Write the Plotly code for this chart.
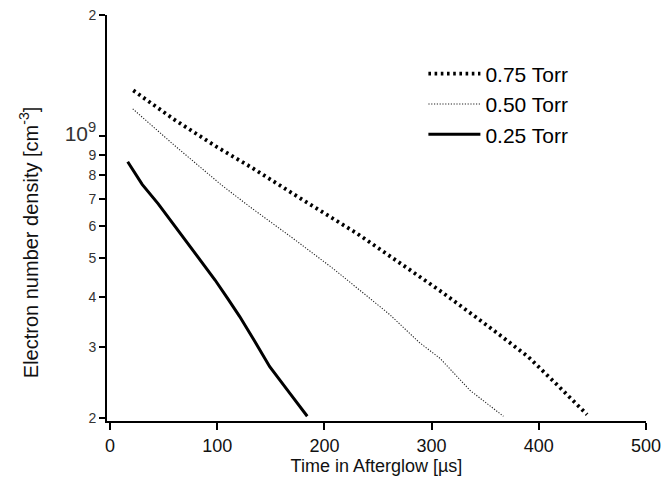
import plotly.graph_objects as go

# Data (time in µs, density in cm^-3)
t_075 = [21.7, 60, 100, 132, 180, 230, 266.5, 310, 354, 390, 417.6, 445]
n_075 = [1.30e9, 1.10e9, 9.4e8, 8.37e8, 6.95e8, 5.75e8, 4.93e8, 4.1e8, 3.36e8, 2.84e8, 2.41e8, 2.04e8]

t_050 = [21.2, 60, 104, 130.6, 170, 208, 244, 261, 288.5, 308, 336, 367]
n_050 = [1.17e9, 9.5e8, 7.57e8, 6.68e8, 5.6e8, 4.70e8, 3.93e8, 3.61e8, 3.08e8, 2.81e8, 2.34e8, 2.02e8]

t_025 = [16.5, 30, 45, 57.5, 75, 98, 110, 121, 135, 149, 168, 184]
n_025 = [8.65e8, 7.6e8, 6.8e8, 6.14e8, 5.3e8, 4.40e8, 3.95e8, 3.57e8, 3.1e8, 2.68e8, 2.30e8, 2.02e8]

x_ticks = [0, 100, 200, 300, 400, 500]
y_tickvals = [2e8, 3e8, 4e8, 5e8, 6e8, 7e8, 8e8, 9e8, 1e9, 2e9]
y_ticktext = ["2", "3", "4", "5", "6", "7", "8", "9",
              "<span style='font-size:21px'>10<sup>9</sup></span>", "2"]

FONT = "Liberation Sans, Arial, sans-serif"

fig = go.Figure()
fig.add_trace(go.Scatter(x=t_075, y=n_075, mode="lines", name="0.75 Torr",
                         line=dict(color="black", width=3.8, dash="2.6px,3.6px")))
fig.add_trace(go.Scatter(x=t_050, y=n_050, mode="lines", name="0.50 Torr",
                         line=dict(color="#222222", width=1.1, dash="1.2px,1.6px")))
fig.add_trace(go.Scatter(x=t_025, y=n_025, mode="lines", name="0.25 Torr",
                         line=dict(color="black", width=3)))

fig.update_layout(
    width=669, height=493,
    margin=dict(l=107, r=23, t=15, b=72, autoexpand=False),
    plot_bgcolor="white", paper_bgcolor="white",
    font=dict(family=FONT, color="#111111"),
    showlegend=True,
    legend=dict(x=0.587, y=0.905, xanchor="left", yanchor="top",
                font=dict(size=21, family=FONT, color="black"),
                bgcolor="rgba(0,0,0,0)", tracegroupgap=0, itemwidth=52),
    xaxis=dict(range=[-2.8, 500], tickvals=x_ticks, ticks="outside", ticklen=7,
               tickwidth=2, tickcolor="black", showline=True, linecolor="black",
               linewidth=2, showgrid=False, zeroline=False, automargin=False,
               tickfont=dict(size=18, family=FONT, color="#111111"),
               title=dict(text="Time in Afterglow [µs]", standoff=5,
                          font=dict(size=18, family=FONT, color="#111111"))),
    yaxis=dict(type="log", range=[8.2936, 9.30103], tickvals=y_tickvals,
               ticktext=y_ticktext, ticks="outside", ticklen=6, tickwidth=2,
               tickcolor="black", showline=True, linecolor="black", linewidth=2,
               showgrid=False, zeroline=False, automargin=False,
               tickfont=dict(size=14, family=FONT, color="#333333")),
    annotations=[dict(text="Electron number density [cm<sup>-3</sup>]",
                      xref="paper", yref="paper", x=-0.145, y=0.44,
                      xanchor="center", yanchor="middle", textangle=-90,
                      showarrow=False,
                      font=dict(size=20, family=FONT, color="#111111"))],
)

fig.write_html("out.html", config={"displayModeBar": False},
               post_script="document.body.style.margin='0';document.body.style.overflow='hidden';")
